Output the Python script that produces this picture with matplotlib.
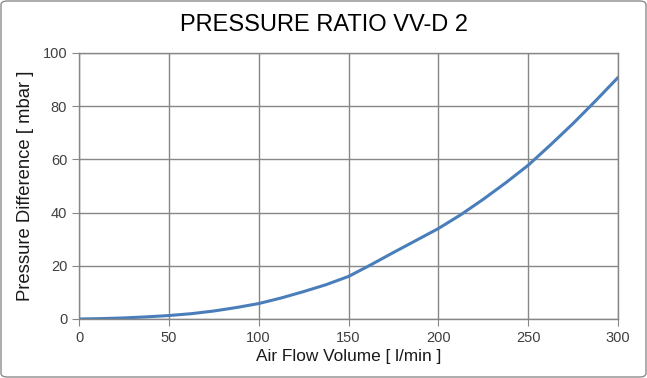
import matplotlib
matplotlib.use("Agg")
import matplotlib.pyplot as plt
from matplotlib.patches import FancyBboxPatch

plt.rcParams['font.family'] = ['Liberation Sans', 'DejaVu Sans']

title = "PRESSURE RATIO VV-D 2"
xlabel = "Air Flow Volume [ l/min ]"
ylabel = "Pressure Difference [ mbar ]"
flow = [0, 12.5, 25, 37.5, 50, 62.5, 75, 87.5, 100, 112.5, 125, 137.5, 150,
        162.5, 175, 187.5, 200, 212.5, 225, 237.5, 250, 262.5, 275, 287.5, 300]
pressure = [0.0, 0.15, 0.4, 0.8, 1.3, 2.0, 3.0, 4.3, 5.8, 7.9, 10.3, 12.9, 16.0,
            20.4, 25.0, 29.5, 34.0, 39.2, 45.0, 51.2, 57.8, 65.5, 73.5, 82.0, 90.8]
xticks = [0, 50, 100, 150, 200, 250, 300]
yticks = [0, 20, 40, 60, 80, 100]

fig = plt.figure(figsize=(6.47, 3.78), dpi=100)
ax = fig.add_axes([79/647, 1-319/378, (618-79)/647, (319-53)/378])

ax.plot(flow, pressure, color='#4a7ebb', lw=2.2, solid_capstyle='round', solid_joinstyle='round')
ax.set_xlim(0, 300)
ax.set_ylim(0, 100)
ax.set_xticks(xticks)
ax.set_yticks(yticks)
ax.grid(True, color='#878787', lw=1.0)
ax.set_axisbelow(True)
for s in ax.spines.values():
    s.set_color('#878787')
    s.set_linewidth(1.0)
ax.tick_params(axis='both', colors='#878787', labelcolor='#404040', labelsize=10.5, length=5, direction='out')
ax.set_xlabel(xlabel, fontsize=12.4, color='#1a1a1a', labelpad=3)
ax.set_ylabel(ylabel, fontsize=13.3, color='#1a1a1a', labelpad=6)
fig.text(0.5, 1-25/378, title, ha='center', va='center', fontsize=17, color='#000000')

border = FancyBboxPatch((1/647, 1/378), 645/647, 376/378, boxstyle="round,pad=0,rounding_size=0.01",
                        transform=fig.transFigure, fill=False, edgecolor='#8c8c8c', lw=1.0)
fig.patches.append(border)

fig.savefig("out.png", dpi=100)
